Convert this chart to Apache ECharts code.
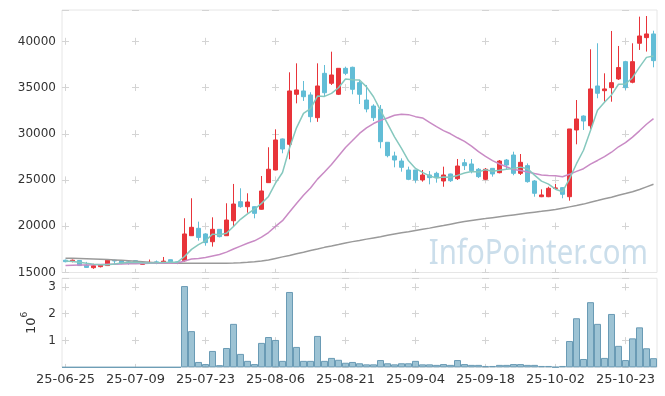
<!DOCTYPE html>
<html><head><meta charset="utf-8">
<script src="https://cdn.jsdelivr.net/npm/echarts@6/dist/echarts.min.js"></script>
<style>html,body{margin:0;padding:0;background:#fff}#c{width:665px;height:396px}</style>
</head><body><div id="c"></div>
<script>
const dates = ['25-06-25','25-06-26','25-06-27','25-06-30','25-07-01','25-07-02','25-07-03','25-07-04','25-07-07','25-07-08',
'25-07-09','25-07-10','25-07-11','25-07-14','25-07-15','25-07-16','25-07-17','25-07-18','25-07-21','25-07-22',
'25-07-23','25-07-24','25-07-25','25-07-28','25-07-29','25-07-30','25-07-31','25-08-01','25-08-04','25-08-05',
'25-08-06','25-08-07','25-08-08','25-08-11','25-08-12','25-08-13','25-08-14','25-08-18','25-08-19','25-08-20',
'25-08-21','25-08-22','25-08-25','25-08-26','25-08-27','25-08-28','25-08-29','25-09-01','25-09-02','25-09-03',
'25-09-04','25-09-05','25-09-08','25-09-09','25-09-10','25-09-11','25-09-12','25-09-15','25-09-16','25-09-17',
'25-09-18','25-09-19','25-09-22','25-09-23','25-09-24','25-09-25','25-09-26','25-09-29','25-09-30','25-10-01',
'25-10-02','25-10-10','25-10-13','25-10-14','25-10-15','25-10-16','25-10-17','25-10-20','25-10-21','25-10-22',
'25-10-23','25-10-24','25-10-27','25-10-28','25-10-29'];

const opens = [16330,16200,16300,15800,15520,15630,15750,16330,16250,16150,
16280,15880,16000,16150,16000,16380,16150,16280,18980,19780,
19170,18330,19670,18980,20600,22660,22120,22120,21840,24720,
26090,29450,28870,34280,34640,34210,31750,36550,35470,34280,
37090,37200,35540,33660,33010,32660,29090,27610,27060,26090,
26090,25010,25550,25730,24900,25660,25150,26880,26740,26170,
25080,26270,25800,27170,27710,25730,26560,24900,23200,23200,
24100,24180,23200,30420,31930,30880,35180,34670,35000,35940,
37810,35580,39800,40410,40810];
const closes = [16170,16330,15750,15550,15730,15800,16330,16250,15980,16050,
16000,16030,16100,16050,16230,16170,16050,19170,19890,18800,
18230,19670,18880,20680,22410,22120,22630,21400,23820,26170,
29340,28360,34640,34750,34020,31860,35180,34450,36370,37090,
36550,34820,34280,32690,31750,29150,27640,27170,26380,25080,
25010,25550,25260,25260,25550,24930,26520,26560,26020,25370,
26170,25660,27060,26630,25730,26920,24830,23570,23390,24110,
24150,23460,30530,31610,31390,34860,34390,34860,35540,37170,
35000,37810,40590,40810,37920];
const lows = [16100,16100,15700,15500,15400,15550,15700,15850,15900,15850,
15950,15850,15950,15900,15950,16100,15900,16150,18950,18450,
17900,17800,18800,18950,19960,22000,21470,20860,21800,24700,
26050,27900,27250,33300,33560,31250,31300,34020,35290,34200,
36350,34280,33230,32330,31390,28440,27460,26380,25910,24990,
24720,24830,24540,24720,24280,24800,25010,26090,25730,25230,
24990,25370,25730,26090,25520,25550,24720,23200,23150,23150,
24000,23030,22770,28870,30420,30530,33850,33480,33480,35830,
34750,35470,39080,38900,37200];
const highs = [16400,16400,16350,16150,15950,15900,16350,16380,16300,16350,
16300,16100,16400,16300,16680,16400,16200,20870,23030,20500,
19250,20970,19700,22490,24580,24110,23570,22150,25440,28550,
30490,29500,36660,37630,35720,34500,37630,37450,38890,37100,
37270,37270,35830,35290,33200,33120,29100,28070,27350,26450,
26100,26090,25980,25900,26450,25700,27280,27280,27280,26300,
26300,26300,27170,27280,28070,27820,26800,25000,24000,24280,
24580,24220,30530,33660,32000,39150,39800,36550,41130,39510,
37900,39800,42680,42750,41160];
const ma5 = [16250,16200,16100,16000,15906,15832,15832,15932,16018,16082,
16122,16062,16032,16046,16082,16116,16120,16734,17502,18016,
18428,19152,19094,19252,19974,20752,21344,21848,22476,23228,
24672,25818,28466,30652,32222,32726,34090,34052,34376,34990,
35928,35856,35822,35086,34018,32538,31102,29680,28418,27084,
26256,25838,25456,25232,25326,25310,25504,25764,25916,25880,
26128,25956,26056,26178,26250,26400,26234,25536,24888,24564,
24010,23740,25128,26772,28228,30370,32556,33422,34208,35364,
35392,36076,37222,38276,38426];
const ma20 = [15750,15780,15800,15820,15840,15860,15880,15900,15920,15940,
15960,15980,15990,16000,16010,16020,16030,16250,16450,16522,
16625,16792,16948,17205,17539,17855,18170,18427,18819,19325,
19992,20609,21536,22471,23360,24145,25101,25865,26689,27604,
28520,29277,30047,30648,31115,31466,31717,32005,32133,32079,
31862,31722,31253,30778,30355,30008,29575,29181,28663,28077,
27558,27100,26739,26436,26135,26024,25883,25703,25554,25505,
25462,25358,25622,25939,26231,26728,27121,27536,28012,28602,
29044,29651,30328,31037,31646];
const ma120 = [16550,16540,16520,16500,16470,16440,16400,16360,16320,16270,
16220,16170,16120,16080,16050,16030,16010,16000,16000,16000,
16000,16000,16000,16010,16020,16050,16100,16160,16250,16350,
16520,16690,16850,17030,17190,17370,17540,17720,17870,18030,
18200,18340,18470,18610,18740,18870,19020,19160,19300,19420,
19550,19680,19800,19940,20080,20230,20380,20520,20630,20740,
20830,20930,21030,21130,21230,21330,21430,21530,21620,21720,
21820,21960,22100,22240,22400,22600,22780,22970,23150,23350,
23540,23740,23980,24260,24540];
const volumes = [0,0,0,0,0,0,0,0,0,0,
0,0,0,0,0,0,0,3030000,1350000,200000,
120000,610000,80000,720000,1620000,500000,240000,120000,910000,1130000,
1020000,240000,2810000,760000,240000,240000,1170000,240000,350000,280000,
170000,200000,150000,110000,110000,270000,150000,110000,150000,150000,
240000,110000,110000,90000,120000,90000,270000,120000,90000,90000,
50000,50000,90000,90000,120000,120000,90000,90000,50000,50000,
10000,50000,980000,1830000,310000,2430000,1620000,350000,1990000,800000,
270000,1080000,1490000,710000,340000];
const priceTicks = {min:15000, max:43400, interval:5000};
const volTicks = {min:0, max:3320000, interval:1000000};

const candle = dates.map((d,i)=>[opens[i], closes[i], lows[i], highs[i]]);
const FONT = 'DejaVu Sans';
const crossColor = '#d4d4d4';
const chart = echarts.init(document.getElementById('c'));
chart.setOption({
  animation:false,
  textStyle:{fontFamily:FONT},
  grid:[
    {left:62,right:8,top:10,height:262.5,show:true,borderColor:'#e6e6e6',borderWidth:1},
    {left:62,right:8,top:278.3,height:89,show:true,borderColor:'#e6e6e6',borderWidth:1}
  ],
  graphic:[{type:'text',x:648,y:254,scaleX:0.84,z:0,silent:true,
    style:{text:'InfoPointer.com',font:'35px "Noto Sans"',fill:'rgba(160,195,218,0.55)',
      align:'right',verticalAlign:'middle'}}],
  xAxis:[
    {type:'category',data:dates,gridIndex:0,boundaryGap:true,
     axisLine:{show:false},axisTick:{show:false},axisLabel:{show:false},
     splitLine:{show:true,interval:9,alignWithLabel:true,
       lineStyle:{color:crossColor,width:1,type:[7,39.2],dashOffset:18.4}}},
    {type:'category',data:dates,gridIndex:1,boundaryGap:true,
     axisLine:{show:false},axisTick:{show:false},
     axisLabel:{interval:9,fontSize:13,color:'#333',margin:6,fontFamily:FONT},
     splitLine:{show:true,interval:9,alignWithLabel:true,
       lineStyle:{color:crossColor,width:1,type:[7,19.8],dashOffset:21.6}}}
  ],
  yAxis:[
    {type:'value',gridIndex:0,min:priceTicks.min,max:priceTicks.max,interval:priceTicks.interval,
     axisLine:{show:false},axisTick:{show:false},
     axisLabel:{showMaxLabel:false,fontSize:12,color:'#333',margin:6,formatter:v=>String(v)},
     splitLine:{show:true,lineStyle:{color:crossColor,width:1,type:[7,63],dashOffset:0}}},
    {type:'value',gridIndex:1,min:volTicks.min,max:volTicks.max,interval:volTicks.interval,
     axisLine:{show:false},axisTick:{show:false},
     axisLabel:{showMaxLabel:false,showMinLabel:false,fontSize:12,color:'#333',margin:6,
       formatter:v=>String(v/1e6)},
     splitLine:{show:true,lineStyle:{color:crossColor,width:1,type:[7,63],dashOffset:0}},
     name:'{a|10}{b|6}',nameLocation:'middle',nameRotate:90,nameGap:24,nameMoveOverlap:false,
     nameTextStyle:{color:'#333',rich:{a:{fontSize:13,fontFamily:FONT,lineHeight:18,verticalAlign:'bottom'},
       b:{fontSize:9,fontFamily:FONT,lineHeight:18,verticalAlign:'top'}}}}
  ],
  series:[
    {type:'candlestick',xAxisIndex:0,yAxisIndex:0,data:candle,barWidth:5,z:3,
     itemStyle:{color:'#e8343a',color0:'#62bdd6',borderColor:'#e8343a',borderColor0:'#62bdd6',borderWidth:1}},
    {type:'line',xAxisIndex:0,yAxisIndex:0,data:ma120,symbol:'none',z:4,
     lineStyle:{color:'#9a9a9a',width:1.5}},
    {type:'line',xAxisIndex:0,yAxisIndex:0,data:ma20,symbol:'none',z:4,
     lineStyle:{color:'#c98bc5',width:1.5}},
    {type:'line',xAxisIndex:0,yAxisIndex:0,data:ma5,symbol:'none',z:4,
     lineStyle:{color:'#86c8be',width:1.5}},
    {type:'bar',xAxisIndex:1,yAxisIndex:1,data:volumes,barCategoryGap:'0%',
     itemStyle:{color:'rgba(140,184,204,0.85)',borderColor:'#6a9bb5',borderWidth:1}}
  ]
});
</script></body></html>
